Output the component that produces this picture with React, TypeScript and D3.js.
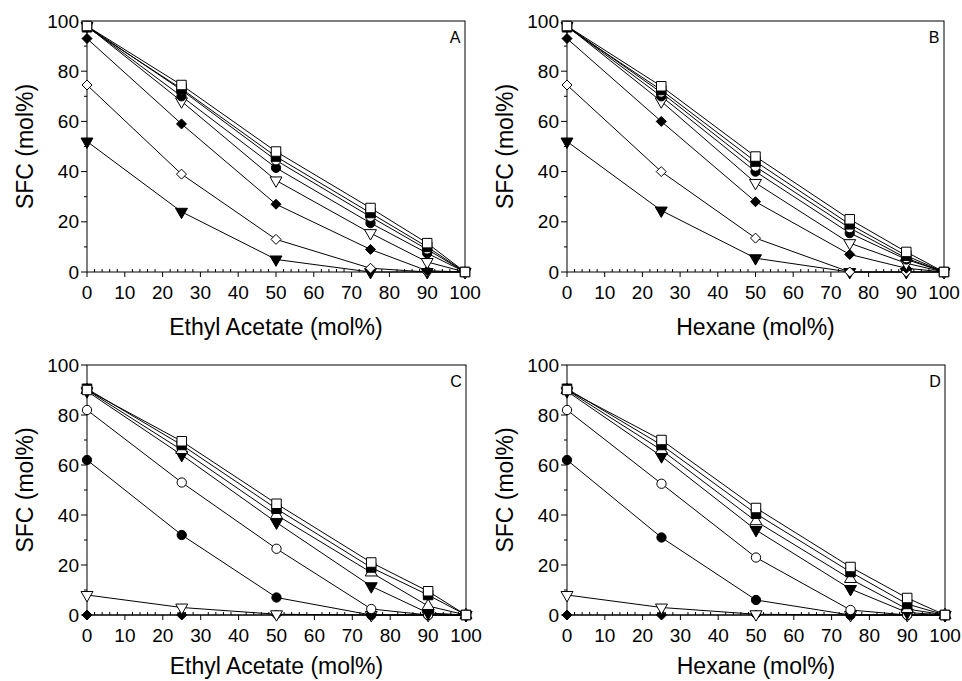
import React from "react";
import * as d3 from "d3";

// x positions shared by every series (mol% of solvent)
const xValues = [0, 25, 50, 75, 90, 100];
const xTicks = [0, 10, 20, 30, 40, 50, 60, 70, 80, 90, 100];
const yTicks = [0, 20, 40, 60, 80, 100];

// marker order used in panels A and B
const symbolsAB = ["squareOpen", "squareFilled", "circleOpen", "circleFilled", "triDownOpen", "diamondFilled", "diamondOpen", "triDownFilled"];
// marker order used in panels C and D
const symbolsCD = ["squareOpen", "squareFilled", "triUpOpen", "triDownFilled", "circleOpen", "circleFilled", "triDownOpen", "diamondFilled"];

const panelA = [
  [98, 74.5, 48, 25.5, 11.5, 0],
  [97.5, 73, 46, 23.5, 10, 0],
  [98, 72.5, 44.5, 22, 9, 0],
  [98, 70, 41.5, 19.5, 7.5, 0],
  [98, 68, 36.5, 15.5, 4, 0],
  [93, 59, 27, 9, 0.5, 0],
  [74.5, 39, 13, 1.5, 0, 0],
  [52, 24, 5, 0, 0, 0],
];
const panelB = [
  [98, 74, 46, 21, 8, 0],
  [97.5, 72.5, 44, 19, 6.5, 0],
  [98, 71.5, 42, 17.5, 5.5, 0],
  [98, 70, 40, 15.5, 5, 0],
  [98, 68, 35.5, 11.5, 3.5, 0],
  [93, 60, 28, 7, 1.5, 0],
  [74.5, 40, 13.5, 0, 0, 0],
  [52, 24.5, 5.5, 0, 0, 0],
];
const panelC = [
  [90, 69.5, 44.5, 21, 9.5, 0],
  [90.5, 68, 42.5, 19, 8, 0],
  [90, 66, 40, 17, 3.6, 0],
  [89.5, 64, 37, 11.5, 0.8, 0],
  [82, 53, 26.5, 2.4, 0, 0],
  [62, 32, 7, 0, 0, 0],
  [8, 3, 0.3, 0, 0, 0],
  [0, 0, 0, 0, 0, 0],
];
const panelD = [
  [90, 70, 42.8, 19.2, 6.8, 0],
  [90.5, 68, 40.5, 17.2, 4.4, 0],
  [90, 66, 37.5, 14.4, 2.4, 0],
  [89.5, 63.5, 34, 10.4, 1, 0],
  [82, 52.5, 23, 2, 0, 0],
  [62, 31, 6, 0, 0, 0],
  [8, 3, 0.3, 0, 0, 0],
  [0, 0, 0, 0, 0, 0],
];

const panels = [
  { letter: "A", xLabel: "Ethyl Acetate (mol%)", data: panelA, symbols: symbolsAB, box: [87, 465, 21, 272], titleDy: 63 },
  { letter: "B", xLabel: "Hexane (mol%)", data: panelB, symbols: symbolsAB, box: [567, 944, 21, 272], titleDy: 63 },
  { letter: "C", xLabel: "Ethyl Acetate (mol%)", data: panelC, symbols: symbolsCD, box: [87, 466, 365, 615], titleDy: 59 },
  { letter: "D", xLabel: "Hexane (mol%)", data: panelD, symbols: symbolsCD, box: [567, 945, 365, 615], titleDy: 59 },
];

const font = "'Liberation Sans', Arial, sans-serif";

const Marker = ({ kind, x, y }: { kind: string; x: number; y: number }) => {
  const filled = kind.endsWith("Filled");
  let d: string;
  let rot = 0;
  if (kind.startsWith("diamond")) {
    d = "M0,-5L5,0L0,5L-5,0Z";
  } else {
    let type = d3.symbolSquare, size = 90;
    if (kind.startsWith("circle")) { type = d3.symbolCircle; size = 68; }
    if (kind.startsWith("triUp")) { type = d3.symbolTriangle; size = 62; }
    if (kind.startsWith("triDown")) { type = d3.symbolTriangle; size = 62; rot = 180; }
    d = d3.symbol().type(type).size(size)() as string;
  }
  return (
    <path d={d} transform={`translate(${x},${y}) rotate(${rot})`}
      fill={filled ? "#000" : "#fff"} stroke="#000" strokeWidth={1} />
  );
};

const Panel = ({ p }: { p: typeof panels[number] }) => {
  const [x0, x1, y1, y0] = p.box;
  const xScale = d3.scaleLinear().domain([0, 100]).range([x0, x1]);
  const yScale = d3.scaleLinear().domain([0, 100]).range([y0, y1]);
  const line = d3.line<number>().x((_, i) => xScale(xValues[i])).y((v) => yScale(v));
  const minorX = d3.range(0, 101, 2).filter((v) => v % 10 !== 0);
  const minorY = d3.range(10, 100, 20);
  const order = d3.range(p.data.length).reverse();
  return (
    <g>
      {/* frame */}
      <rect x={x0} y={y1} width={x1 - x0} height={y0 - y1} fill="none" stroke="#000" strokeWidth={1} />
      {/* x axis ticks */}
      {xTicks.map((t) => (
        <g key={"xt" + t}>
          <line x1={xScale(t)} x2={xScale(t)} y1={y0} y2={y0 + 5} stroke="#000" />
          <text x={xScale(t)} y={y0 + 27} textAnchor="middle" fontSize={19} fontFamily={font}>{t}</text>
        </g>
      ))}
      {minorX.map((t) => (
        <line key={"xm" + t} x1={xScale(t)} x2={xScale(t)} y1={y0} y2={y0 - 3} stroke="#000" />
      ))}
      {/* y axis ticks */}
      {yTicks.map((t) => (
        <g key={"yt" + t}>
          <line x1={x0 - 6} x2={x0} y1={yScale(t)} y2={yScale(t)} stroke="#000" />
          <text x={x0 - 8} y={yScale(t)} dy="0.35em" textAnchor="end" fontSize={19} fontFamily={font}>{t}</text>
        </g>
      ))}
      {minorY.map((t) => (
        <line key={"ym" + t} x1={x0 - 3} x2={x0} y1={yScale(t)} y2={yScale(t)} stroke="#000" />
      ))}
      {/* axis titles */}
      <text x={(x0 + x1) / 2} y={y0 + p.titleDy} textAnchor="middle" fontSize={23} fontFamily={font}>{p.xLabel}</text>
      <text transform={`translate(${x0 - 54},${(y0 + y1) / 2}) rotate(-90)`} textAnchor="middle" fontSize={23} fontFamily={font}>SFC (mol%)</text>
      <text x={x1 - 10} y={y1 + 22} textAnchor="middle" fontSize={16} fontFamily={font}>{p.letter}</text>
      {/* lines */}
      {order.map((i) => (
        <path key={"l" + i} d={line(p.data[i]) as string} fill="none" stroke="#000" strokeWidth={1} />
      ))}
      {/* markers */}
      {order.map((i) => p.data[i].map((v, j) => (
        <Marker key={`m${i}-${j}`} kind={p.symbols[i]} x={xScale(xValues[j])} y={yScale(v)} />
      )))}
    </g>
  );
};

const App = () => {
  return (
    <svg width={962} height={681} style={{ position: "absolute", left: 0, top: 0, background: "#fff" }}>
      <rect width={962} height={681} fill="#fff" />
      {panels.map((p) => <Panel key={p.letter} p={p} />)}
    </svg>
  );
};

export default App;
